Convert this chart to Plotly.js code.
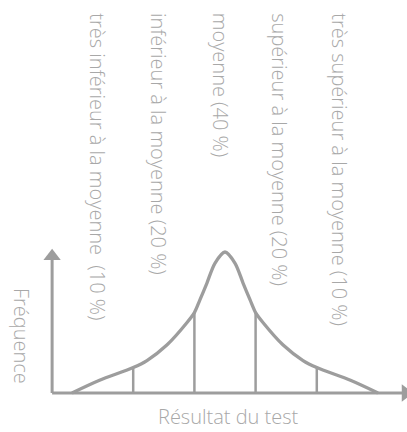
<!DOCTYPE html>
<html><head><meta charset="utf-8">
<script src="https://cdn.plot.ly/plotly-3.0.1.min.js"></script>
<style>html,body{margin:0;padding:0;background:#fff;}#chart{width:407px;height:432px;}</style>
</head><body><div id="chart"></div>
<script>
// curve (score units, relative frequency)
const curveX = [-5, -4.1, -3, -2.55, -1.9, -1.24, -1, -0.82, -0.59, -0.33, 0, 0.33, 0.59, 0.82, 1, 1.24, 1.9, 2.55, 3, 4.1, 5];
const curveY = [0, 0.09, 0.18, 0.23, 0.34, 0.50, 0.57, 0.66, 0.78, 0.92, 1.0, 0.92, 0.78, 0.66, 0.57, 0.50, 0.34, 0.23, 0.18, 0.09, 0];
// class boundaries
const dividerX = [-3, -1, 1, 3];
const dividerY = [0.18, 0.57, 0.57, 0.18];
// category labels and their centers
const labels = ["très inférieur à la moyenne\u00a0 (10 %)", "inférieur à la moyenne (20 %)", "moyenne (40 %)", "supérieur à la moyenne (20 %)", "très supérieur à la moyenne (10 %)"];
const labelX = [-4.15, -2.19, -0.16, 1.80, 3.76];
// axis extents
const axisXMin = -5.65, axisXMax = 5.9, axisYMax = 0.97;

const lineCol = '#9d9d9d', textCol = '#a8a8a8';
const fnt = {family: '"Open Sans", Roboto, sans-serif', weight: 300, color: textCol};
const fs = 20;

const traces = [];
// axes
traces.push({x: [axisXMin, axisXMax], y: [0, 0], mode: 'lines', line: {color: lineCol, width: 3}, hoverinfo: 'skip'});
traces.push({x: [axisXMin, axisXMin], y: [0, axisYMax], mode: 'lines', line: {color: lineCol, width: 3}, hoverinfo: 'skip'});
traces.push({x: [axisXMin], y: [axisYMax], mode: 'markers', marker: {symbol: 'triangle-up', size: 15, color: lineCol}, hoverinfo: 'skip'});
traces.push({x: [axisXMax], y: [0], mode: 'markers', marker: {symbol: 'triangle-right', size: 15, color: lineCol}, hoverinfo: 'skip'});
// dividers
dividerX.forEach((dx, i) => traces.push({x: [dx, dx], y: [0, dividerY[i]], mode: 'lines', line: {color: lineCol, width: 2.5}, hoverinfo: 'skip'}));
// curve
traces.push({x: curveX, y: curveY, mode: 'lines', line: {color: lineCol, width: 3.3, shape: 'spline', smoothing: 0.8}, hoverinfo: 'skip'});

const annotations = labels.map((t, i) => ({
  x: labelX[i], y: 2.71, xref: 'x', yref: 'y', text: t, showarrow: false, textangle: 90,
  xanchor: 'center', yanchor: 'top', font: Object.assign({size: fs}, fnt)
}));
annotations.push({x: -6.63, y: 0.404, xref: 'x', yref: 'y', text: 'Fréquence', showarrow: false, textangle: 90,
  xanchor: 'center', yanchor: 'middle', font: Object.assign({size: fs}, fnt)});
annotations.push({x: 0.1, y: 0, xref: 'x', yref: 'paper', text: 'Résultat du test', showarrow: false,
  xanchor: 'center', yanchor: 'bottom', font: Object.assign({size: fs}, fnt)});

Plotly.newPlot('chart', traces, {
  width: 407, height: 432, margin: {l: 0, r: 0, t: 0, b: 0},
  paper_bgcolor: '#fff', plot_bgcolor: '#fff', showlegend: false,
  xaxis: {range: [-7.353, 5.948], visible: false, fixedrange: true},
  yaxis: {range: [-0.2766, 2.787], visible: false, fixedrange: true},
  annotations: annotations
}, {staticPlot: true});
</script></body></html>
